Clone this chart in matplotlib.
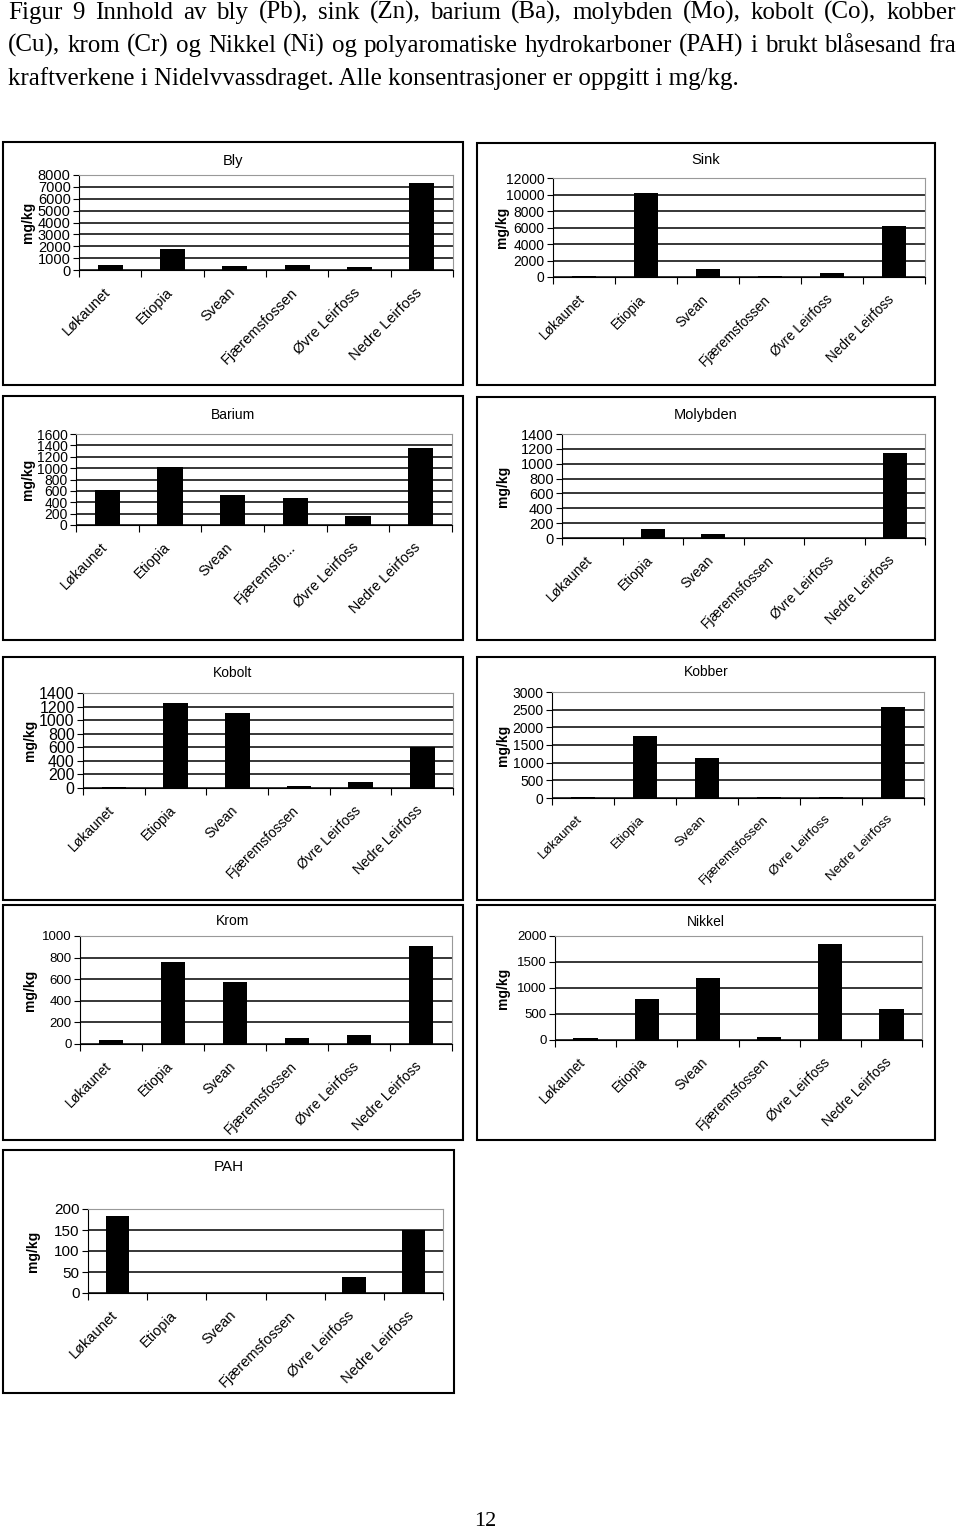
import numpy as np
import matplotlib
matplotlib.use('Agg')
import matplotlib.pyplot as plt
from matplotlib.patches import Rectangle
from matplotlib.transforms import ScaledTranslation

#data (mg/kg)
stations = ['Løkaunet', 'Etiopia', 'Svean', 'Fjæremsfossen', 'Øvre Leirfoss', 'Nedre Leirfoss']
bly = [450, 1800, 350, 450, 250, 7300]
sink = [150, 10200, 950, 150, 500, 6200]
barium = [620, 1020, 530, 480, 160, 1360]
molybden = [0, 120, 55, 0, 0, 1150]
kobolt = [20, 1250, 1100, 35, 85, 600]
kobber = [40, 1750, 1130, 40, 40, 2580]
krom = [35, 760, 570, 60, 80, 910]
nikkel = [30, 790, 1190, 55, 1840, 600]
pah = [183, 0, 0, 0, 37, 150]

header = ["Figur 9 Innhold av bly (Pb), sink (Zn), barium (Ba), molybden (Mo), kobolt (Co), kobber",
          "(Cu), krom (Cr) og Nikkel (Ni) og polyaromatiske hydrokarboner (PAH) i brukt blåsesand fra",
          "kraftverkene i Nidelvvassdraget. Alle konsentrasjoner er oppgitt i mg/kg."]

W, H = 960, 1533
fig = plt.figure(figsize=(W/100, H/100), dpi=100)
plt.rcParams['font.family'] = ['Liberation Sans', 'DejaVu Sans']

def px_rect(x0, y0, x1, y1):
    #pixel box (top-left origin) -> figure fraction
    return [x0/W, 1 - y1/H, (x1-x0)/W, (y1-y0)/H]

# panels: title, values, ymax, ystep, box px, plot px, title y px, ylabel x px, labels,
#         y tick font, x label font, title font
panels = [
    ('Bly', bly, 8000, 1000, (3, 142, 463, 385), (79, 175, 453, 270), 161, 28, stations, 10.5, 10.5, 10.5),
    ('Sink', sink, 12000, 2000, (477, 143, 935, 385), (553, 178, 925, 277), 160, 502, stations, 10, 9.8, 10.5),
    ('Barium', barium, 1600, 200, (3, 396, 463, 640), (76, 434, 452, 525), 415, 28,
     stations[:3] + ['Fjæremsfo...'] + stations[4:], 10, 10.3, 10),
    ('Molybden', molybden, 1400, 200, (477, 397, 935, 640), (562, 434, 925, 538), 415, 503, stations, 10.5, 10, 10.5),
    ('Kobolt', kobolt, 1400, 200, (3, 657, 463, 900), (83, 693, 453, 788), 673, 30, stations, 11.5, 10, 10),
    ('Kobber', kobber, 3000, 500, (477, 657, 935, 900), (552, 692, 924, 798), 672, 503, stations, 10, 9.6, 10),
    ('Krom', krom, 1000, 200, (3, 905, 463, 1140), (80, 936, 452, 1044), 921, 30, stations, 9.5, 10, 10),
    ('Nikkel', nikkel, 2000, 500, (477, 905, 935, 1140), (555, 936, 922, 1040), 922, 503, stations, 9.5, 10, 10),
    ('PAH', pah, 200, 50, (3, 1150, 454, 1393), (88, 1209, 443, 1293), 1167, 33, stations, 11, 10.5, 11),
]

x = np.arange(len(stations))
shift = ScaledTranslation(-5/72, -1/72, fig.dpi_scale_trans)
for title, vals, ymax, ystep, box, plot, ty, ylx, labels, yfs, xfs, tfs in panels:
    fig.patches.append(Rectangle((box[0]/W, 1 - box[3]/H), (box[2]-box[0])/W, (box[3]-box[1])/H,
                                 transform=fig.transFigure, fill=False, edgecolor='black', linewidth=1.5))
    ax = fig.add_axes(px_rect(*plot))
    ax.bar(x, vals, width=0.4, color='black', zorder=3)
    ax.set_xlim(-0.5, len(stations) - 0.5)
    ax.set_ylim(0, ymax)
    ax.set_yticks(np.arange(0, ymax + 1, ystep))
    ax.tick_params(axis='y', labelsize=yfs, length=4, pad=2)
    ax.set_xticks(np.arange(-0.5, len(stations)), labels=[])
    ax.set_xticks(x, labels=labels, minor=True)
    ax.tick_params(axis='x', which='major', length=5, direction='out')
    ax.tick_params(axis='x', which='minor', length=0, pad=10, labelsize=xfs)
    for lab in ax.get_xticklabels(minor=True):
        lab.set_rotation(45)
        lab.set_ha('right')
        lab.set_rotation_mode('anchor')
        lab.set_transform(lab.get_transform() + shift)
    ax.yaxis.grid(True, color='black', linewidth=1.1)
    ax.get_ygridlines()[-1].set_visible(False)
    ax.set_axisbelow(True)
    ax.spines['top'].set_color('#999999')
    ax.spines['right'].set_color('#999999')
    fig.text(((box[0] + box[2])/2)/W, 1 - ty/H, title, ha='center', va='center', fontsize=tfs)
    fig.text(ylx/W, 1 - ((plot[1] + plot[3])/2)/H, 'mg/kg', rotation=90, ha='center', va='center',
             fontsize=10, fontweight='bold')

#header text, first two lines justified
renderer = fig.canvas.get_renderer()
left, right = 8, 956
baselines = [19, 52, 85]
hfs = 18
for i, line in enumerate(header):
    yb = 1 - baselines[i]/H
    if i == len(header) - 1:
        fig.text(left/W, yb, line, fontsize=hfs, family='Liberation Serif', va='baseline')
        continue
    words = line.split(' ')
    texts = [fig.text(0, yb, w, fontsize=hfs, family='Liberation Serif', va='baseline') for w in words]
    widths = [t.get_window_extent(renderer).width for t in texts]
    gap = (right - left - sum(widths)) / (len(words) - 1)
    pos = left
    for t, wd in zip(texts, widths):
        t.set_x(pos/W)
        pos += wd + gap

fig.text(485/W, 1 - 1521/H, '12', ha='center', va='center', fontsize=16, family='Liberation Serif')

plt.savefig('out.png', dpi=100)
